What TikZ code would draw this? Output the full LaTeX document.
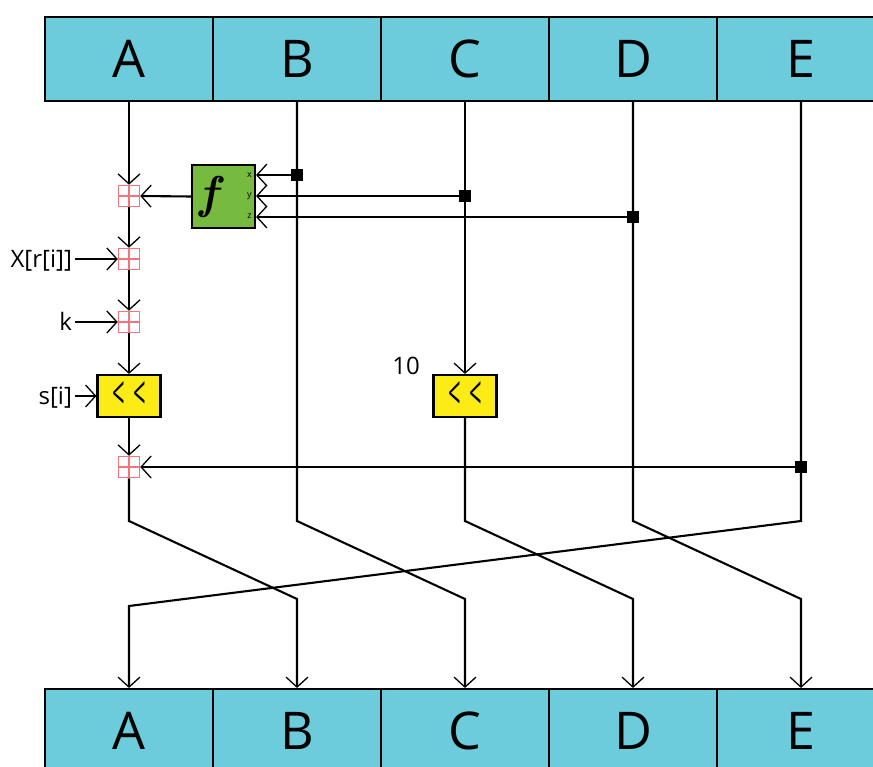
\documentclass[tikz,border=0pt]{standalone}
\usepackage{fontspec}
\setsansfont{Open Sans}
\usetikzlibrary{arrows.meta}
\definecolor{cellc}{RGB}{108,204,220}
\definecolor{fgreen}{RGB}{118,186,64}
\definecolor{syellow}{RGB}{252,235,20}
\definecolor{addc}{RGB}{244,115,124}
\newcommand{\chev}{\scalebox{0.5}[1.05]{<}\hspace{0.2em}\scalebox{0.5}[1.05]{<}}
\begin{document}
\begin{tikzpicture}[x=1pt,y=-1pt,line width=2.1pt,
  cell/.style={draw, fill=cellc, minimum width=168pt, minimum height=84pt, inner sep=0pt,
    font=\sffamily\fontsize{52}{52}\selectfont},
  arr/.style={-{Straight Barb[length=10pt,width=22pt,line width=1.3pt]}},
  adder/.style={draw=addc, line width=1.5pt, fill=white, minimum size=21pt, inner sep=0pt,
    path picture={\draw[addc,line width=1.5pt] (path picture bounding box.north) -- (path picture bounding box.south)
      (path picture bounding box.west) -- (path picture bounding box.east);}},
  shiftbox/.style={draw, fill=syellow, minimum width=63pt, minimum height=42pt, inner sep=0pt,
    font=\sffamily\fontsize{44}{44}\selectfont},
  fbox/.style={draw, fill=fgreen, minimum width=63pt, minimum height=63pt, inner sep=0pt},
  jdot/.style={fill=black, draw=none, minimum size=12pt, inner sep=0pt},
  lbl/.style={font=\sffamily\fontsize{24}{24}\selectfont, inner sep=2pt},
  tiny/.style={font=\sffamily\fontsize{9}{9}\selectfont, inner sep=0pt}
]
\useasboundingbox (0,0) rectangle (873,767);
% top row
\node[cell] (tA) at (129,59) {A};
\node[cell] (tB) at (297,59) {B};
\node[cell] (tC) at (465,59) {C};
\node[cell] (tD) at (633,59) {D};
\node[cell] (tE) at (801,59) {E};
% bottom row
\node[cell] (bA) at (129,731) {A};
\node[cell] (bB) at (297,731) {B};
\node[cell] (bC) at (465,731) {C};
\node[cell] (bD) at (633,731) {D};
\node[cell] (bE) at (801,731) {E};
% adders
\node[adder] (ad1) at (129,196) {};
\node[adder] (ad2) at (129,259) {};
\node[adder] (ad3) at (129,322) {};
\node[adder] (ad4) at (129,467) {};
% shift boxes
\node[shiftbox] (sA) at (129,396) {\chev};
\node[shiftbox] (sC) at (465,396) {\chev};
% function box
\node[fbox] (fb) at (223.5,196.5) {};
\node[font=\rmfamily\bfseries\itshape\fontsize{46}{46}\selectfont, inner sep=0pt] (fl) at (209,197) {f};
\node[tiny] (fx) at (249.5,175) {x};
\node[tiny] (fy) at (249.5,196) {y};
\node[tiny] (fz) at (249.5,216) {z};
% junction coordinates
\coordinate (cA1) at (129,521); \coordinate (cA2) at (297,599);
\coordinate (cB1) at (297,521); \coordinate (cB2) at (465,599);
\coordinate (cC1) at (465,521); \coordinate (cC2) at (633,599);
\coordinate (cD1) at (633,521); \coordinate (cD2) at (801,599);
\coordinate (cE1) at (801,521); \coordinate (cE2) at (129,606);
% column A
\draw[arr] (tA.south) -- (ad1.north);
\draw[arr] (ad1.south) -- (ad2.north);
\draw[arr] (ad2.south) -- (ad3.north);
\draw[arr] (ad3.south) -- (sA.north);
\draw[arr] (sA.south) -- (ad4.north);
\draw[arr] (ad4.south) -- (cA1) -- (cA2) -- (bB.north);
% column B
\draw[arr] (tB.south) -- (cB1) -- (cB2) -- (bC.north);
% column C
\draw[arr] (tC.south) -- (sC.north);
\draw[arr] (sC.south) -- (cC1) -- (cC2) -- (bD.north);
% column D
\draw[arr] (tD.south) -- (cD1) -- (cD2) -- (bE.north);
% column E
\draw[arr] (tE.south) -- (cE1) -- (cE2) -- (bA.north);
% junction dots
\node[jdot] (jx) at (297,175) {};
\node[jdot] (jy) at (465,196) {};
\node[jdot] (jz) at (633,217) {};
\node[jdot] (je) at (801,467) {};
% into f
\draw[arr] (jx.center) -- (jx.center -| fb.east);
\draw[arr] (jy.center) -- (jy.center -| fb.east);
\draw[arr] (jz.center) -- (jz.center -| fb.east);
\draw[arr] (fb.west) -- (ad1.east);
\draw[arr] (je.center) -- (ad4.east);
% labels
\node[lbl, anchor=base east] (lx) at (75,267.5) {X[r[i]]};
\node[lbl, anchor=base east] (lk) at (75,330.5) {k};
\node[lbl, anchor=base east] (ls) at (75,404) {s[i]};
\node[lbl, anchor=base] (l10) at (406,374.5) {10};
\draw[arr] (lx.east |- ad2.west) -- (ad2.west);
\draw[arr] (lk.east |- ad3.west) -- (ad3.west);
\draw[arr] (ls.east |- sA.west) -- (sA.west);
\end{tikzpicture}
\end{document}
